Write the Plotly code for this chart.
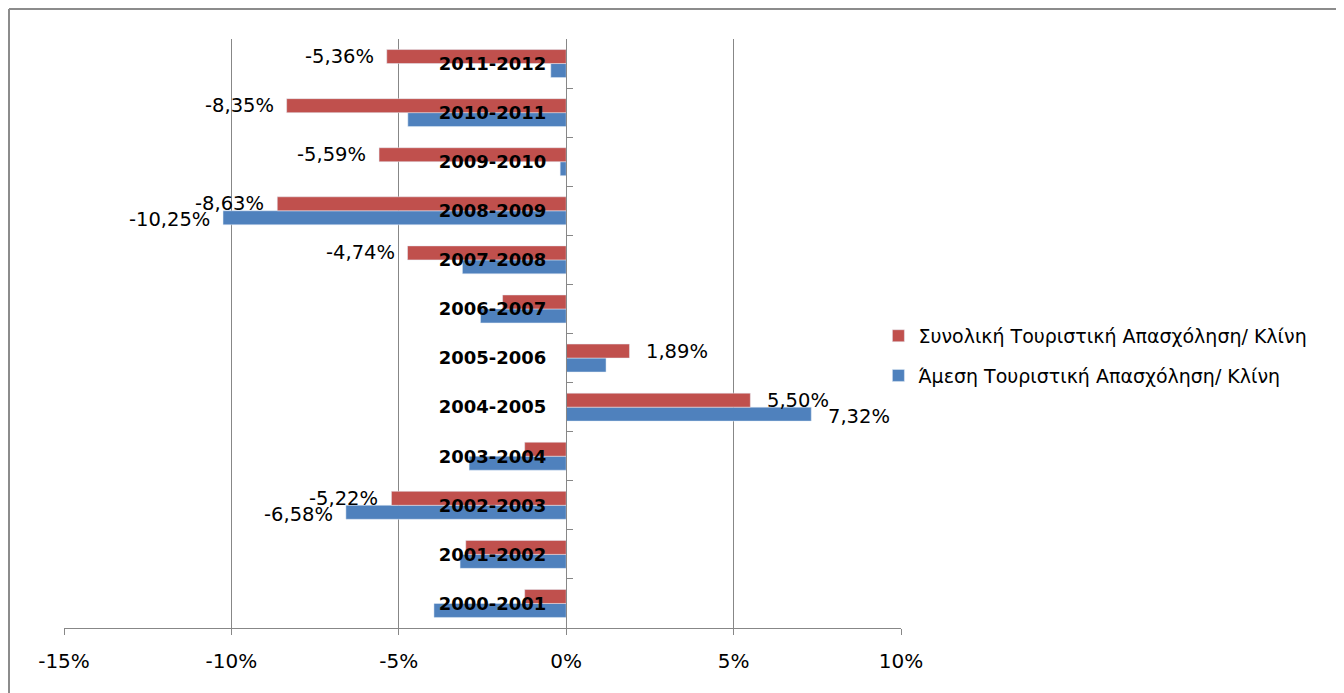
import plotly.graph_objects as go

# periods, bottom to top
periods = ['2000-2001', '2001-2002', '2002-2003', '2003-2004', '2004-2005',
           '2005-2006', '2006-2007', '2007-2008', '2008-2009', '2009-2010',
           '2010-2011', '2011-2012']

# % change
total_per_bed = [-1.24, -3.00, -5.22, -1.24, 5.50, 1.89, -1.90, -4.74,
                 -8.63, -5.59, -8.35, -5.36]
direct_per_bed = [-3.95, -3.17, -6.58, -2.90, 7.32, 1.19, -2.56, -3.10,
                  -10.25, -0.18, -4.73, -0.46]

# which bars carry a data label in the original
total_labelled = [False, False, True, False, True, True, False, True,
                  True, True, True, True]
direct_labelled = [False, False, True, False, True, False, False, False,
                   True, False, False, False]

x_ticks = [-15, -10, -5, 0, 5, 10]
x_tick_text = ['-15%', '-10%', '-5%', '0%', '5%', '10%']

name_total = 'Συνολική Τουριστική Απασχόληση/ Κλίνη'
name_direct = 'Άμεση Τουριστική Απασχόληση/ Κλίνη'

RED = '#C0504D'
BLUE = '#4F81BD'
GRID = '#878787'
FONT = 'DejaVu Sans'


def pct(v):
    return f'{v:.2f}'.replace('.', ',') + '%'


fig = go.Figure()

# blue first so it sits below the red bar in each group
fig.add_trace(go.Bar(y=periods, x=direct_per_bed, orientation='h',
                     name=name_direct, marker_color=BLUE,
                     legendgroup='b', legendrank=2, hoverinfo='skip'))
fig.add_trace(go.Bar(y=periods, x=total_per_bed, orientation='h',
                     name=name_total, marker_color=RED,
                     legendgroup='a', legendrank=1, hoverinfo='skip'))

annotations = []
for vals, flags, dy in [(total_per_bed, total_labelled, 7),
                        (direct_per_bed, direct_labelled, -9)]:
    for p, v, show in zip(periods, vals, flags):
        if not show:
            continue
        annotations.append(dict(
            x=v, y=p, xref='x', yref='y', text=pct(v), showarrow=False,
            xanchor='left' if v > 0 else 'right',
            xshift=15 if v > 0 else -11, yshift=dy,
            font=dict(family=FONT, size=19.5, color='#000000')))

# chart-area border (only top and left edges are in view)
bx = (1 - 56) / 837
fig.update_layout(
    width=1344, height=693,
    margin=dict(l=56, r=451, t=31, b=73),
    paper_bgcolor='white', plot_bgcolor='white',
    barmode='group', bargap=0.43, bargroupgap=0,
    showlegend=True,
    legend=dict(x=0.973, y=0.462, xanchor='left', yanchor='middle',
                traceorder='grouped', tracegroupgap=12,
                font=dict(family=FONT, size=19, color='#000000'),
                itemwidth=30),
    xaxis=dict(range=[-15, 10], tickvals=x_ticks, ticktext=x_tick_text,
               showgrid=True, gridcolor=GRID, gridwidth=1, zeroline=False,
               showline=True, linecolor=GRID, linewidth=1,
               ticks='outside', ticklen=6, tickcolor=GRID,
               ticklabelstandoff=9,
               tickfont=dict(family=FONT, size=20, color='#000000'),
               fixedrange=True),
    yaxis=dict(type='category', anchor='free', position=(566 - 64) / 837,
               showgrid=False, showline=True, linecolor=GRID, linewidth=1,
               ticks='inside', tickson='boundaries', ticklen=6,
               tickcolor=GRID, ticklabelstandoff=16,
               tickfont=dict(family=FONT, size=18, color='#000000',
                             weight='bold'),
               fixedrange=True),
    annotations=annotations,
    shapes=[
        dict(type='line', xref='paper', yref='paper',
             x0=bx, x1=bx, y0=-0.2, y1=1.0509,
             line=dict(color='#8C8C8C', width=2)),
        dict(type='line', xref='paper', yref='paper',
             x0=bx, x1=1.6, y0=1.0509, y1=1.0509,
             line=dict(color='#8C8C8C', width=2)),
    ],
)

fig.write_html('out.html')
